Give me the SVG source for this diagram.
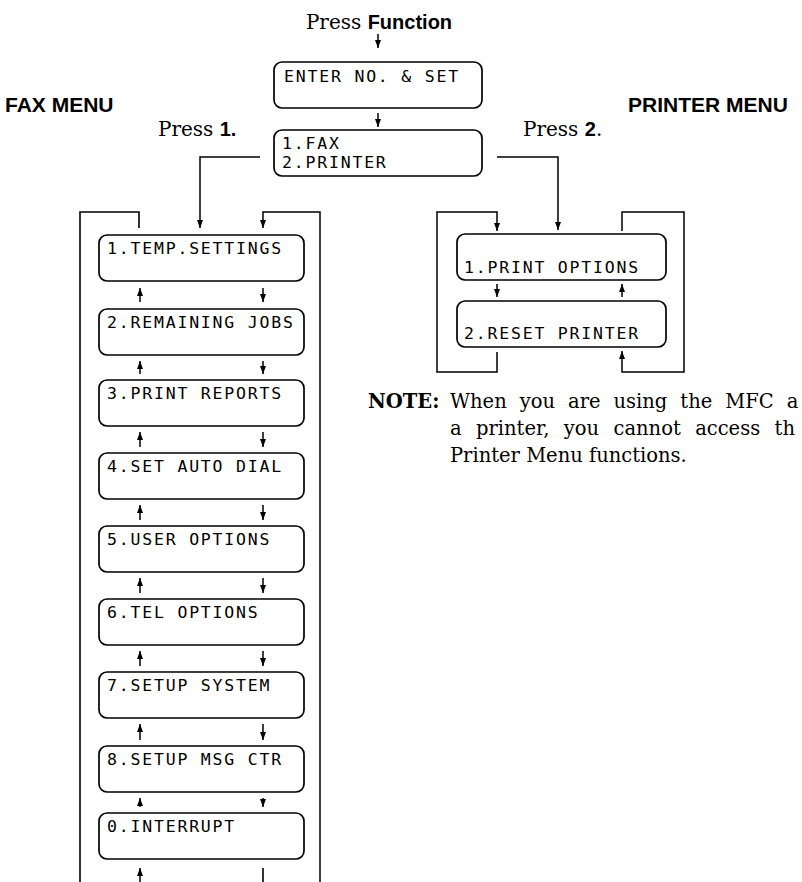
<svg xmlns="http://www.w3.org/2000/svg" width="802" height="882" viewBox="0 0 802 882">
<defs>
<marker id="ah" viewBox="0 0 8 6" refX="8" refY="3" markerWidth="8" markerHeight="6" markerUnits="userSpaceOnUse" orient="auto"><path d="M0,0 L8,3 L0,6 z" fill="#000"/></marker>
<style>
.bx{fill:#fff;stroke:#000;stroke-width:1.7}
.ln{fill:none;stroke:#000;stroke-width:1.6}
.ar{fill:none;stroke:#000;stroke-width:1.5;marker-end:url(#ah)}
.lcd{font-family:"DejaVu Sans Mono","Liberation Mono",monospace;font-size:16.5px;letter-spacing:1.8px;fill:#000}
.hd{font-family:"Liberation Sans",Arial,sans-serif;font-weight:bold;font-size:21px;fill:#000}
.sr{font-family:"DejaVu Serif","Liberation Serif",serif;font-size:20px;fill:#000}
.sb{font-family:"Liberation Sans",Arial,sans-serif;font-weight:bold;font-size:20px}
.nt{font-family:"DejaVu Serif","Liberation Serif",serif;font-size:19.5px;fill:#000}
</style>
</defs>
<g id="titles">
<text x="379" y="29" text-anchor="middle" class="sr">Press <tspan class="sb" font-size="21">Function</tspan></text>
<text x="5" y="112" class="hd">FAX MENU</text>
<text x="628" y="112" class="hd">PRINTER MENU</text>
<text x="158" y="136" class="sr">Press <tspan class="sb">1.</tspan></text>
<text x="523" y="136" class="sr">Press <tspan class="sb">2</tspan>.</text>
</g>
<g id="connectors">
<path class="ar" d="M378,34 V48"/>
<path class="ar" d="M378,113 V127"/>
<path class="ar" d="M260,157 H200 V228"/>
<path class="ar" d="M497,157 H558 V230"/>
<path class="ln" d="M139,228 V212 H80 V882"/>
<path class="ar" d="M320,882 V212 H263 V228"/>
<path class="ar" d="M140,302 V288"/><path class="ar" d="M263,288 V302"/>
<path class="ar" d="M140,374 V361"/><path class="ar" d="M263,361 V374"/>
<path class="ar" d="M140,447 V432"/><path class="ar" d="M263,432 V447"/>
<path class="ar" d="M140,520 V505"/><path class="ar" d="M263,505 V520"/>
<path class="ar" d="M140,593 V578"/><path class="ar" d="M263,578 V593"/>
<path class="ar" d="M140,666 V651"/><path class="ar" d="M263,651 V666"/>
<path class="ar" d="M140,740 V724"/><path class="ar" d="M263,724 V740"/>
<path class="ar" d="M140,807 V798"/><path class="ar" d="M263,798 V807"/>
<path class="ar" d="M140,882 V868"/><path class="ln" d="M263,868 V882"/>
<path class="ar" d="M497,352 V372 H437 V212 H497 V231"/>
<path class="ar" d="M622,231 V212 H684 V372 H622 V351"/>
<path class="ar" d="M497,284 V297"/><path class="ar" d="M622,297 V284"/>
</g>
<g id="enter"><rect class="bx" x="274" y="62" width="208" height="46" rx="8"/><text class="lcd" x="284" y="82">ENTER NO. &amp; SET</text></g>
<g id="select"><rect class="bx" x="274" y="130" width="208" height="46" rx="8"/><text class="lcd" x="282" y="149">1.FAX</text><text class="lcd" x="282" y="168">2.PRINTER</text></g>
<g id="fax1"><rect class="bx" x="99" y="235" width="205" height="46" rx="8"/><text class="lcd" x="107" y="254">1.TEMP.SETTINGS</text></g>
<g id="fax2"><rect class="bx" x="99" y="309" width="205" height="46" rx="8"/><text class="lcd" x="107" y="328">2.REMAINING JOBS</text></g>
<g id="fax3"><rect class="bx" x="99" y="380" width="205" height="46" rx="8"/><text class="lcd" x="107" y="399">3.PRINT REPORTS</text></g>
<g id="fax4"><rect class="bx" x="99" y="453" width="205" height="46" rx="8"/><text class="lcd" x="107" y="472">4.SET AUTO DIAL</text></g>
<g id="fax5"><rect class="bx" x="99" y="526" width="205" height="46" rx="8"/><text class="lcd" x="107" y="545">5.USER OPTIONS</text></g>
<g id="fax6"><rect class="bx" x="99" y="599" width="205" height="46" rx="8"/><text class="lcd" x="107" y="618">6.TEL OPTIONS</text></g>
<g id="fax7"><rect class="bx" x="99" y="672" width="205" height="46" rx="8"/><text class="lcd" x="107" y="691">7.SETUP SYSTEM</text></g>
<g id="fax8"><rect class="bx" x="99" y="746" width="205" height="46" rx="8"/><text class="lcd" x="107" y="765">8.SETUP MSG CTR</text></g>
<g id="fax0"><rect class="bx" x="99" y="813" width="205" height="46" rx="8"/><text class="lcd" x="107" y="832">0.INTERRUPT</text></g>
<g id="prn1"><rect class="bx" x="457" y="234" width="209" height="46" rx="8"/><text class="lcd" x="464" y="273">1.PRINT OPTIONS</text></g>
<g id="prn2"><rect class="bx" x="457" y="301" width="209" height="46" rx="8"/><text class="lcd" x="464" y="339">2.RESET PRINTER</text></g>
<g id="note">
<text x="368" y="408" class="nt" font-size="19" font-weight="bold">NOTE:</text>
<text x="450" y="408" class="nt" word-spacing="6.8">When you are using the MFC a</text>
<text x="450" y="435" class="nt" word-spacing="8.2">a printer, you cannot access th</text>
<text x="450" y="462" class="nt">Printer Menu functions.</text>
</g>
</svg>
